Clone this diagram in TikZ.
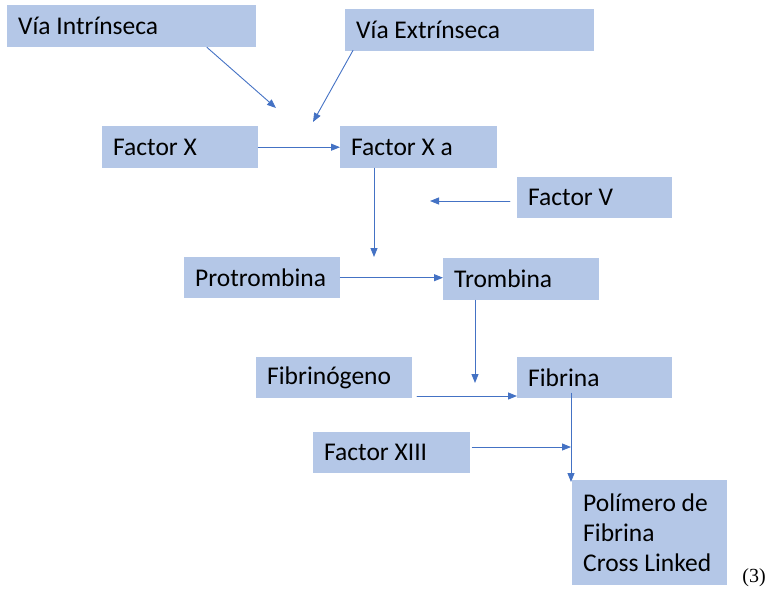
\documentclass[tikz,border=0pt]{standalone}
\usepackage{fontspec}
\setmainfont{Carlito}
\newfontfamily\refnum{Liberation Serif}
\usetikzlibrary{arrows.meta, calc}
\definecolor{boxfill}{HTML}{B4C7E7}
\definecolor{arblue}{HTML}{4472C4}
\tikzset{bx/.style={fill=boxfill, anchor=north west, align=left, inner xsep=11pt, inner ysep=0pt,
    font=\fontsize{25.5}{30}\selectfont, execute at begin node={\spaceskip=0pt\xspaceskip=0pt\relax}},
  ar/.style={draw=arblue, line width=0.9pt, line cap=round, -{Triangle[length=9pt, width=7pt]}}}

\begin{document}
\begin{tikzpicture}[x=1pt, y=-1pt]
  \useasboundingbox (0,0) rectangle (766,590);
  % boxes
  \node[bx, minimum width=249pt, minimum height=42pt, text width=227pt] (vi) at (7,5) {Vía Intrínseca};
  \node[bx, minimum width=249pt, minimum height=42pt, text width=227pt] (ve) at (345,9) {Vía Extrínseca};
  \node[bx, minimum width=156pt, minimum height=42pt, text width=134pt] (fx) at (102,126) {Factor X};
  \node[bx, minimum width=157pt, minimum height=42pt, text width=135pt] (fxa) at (340,126) {Factor X a};
  \node[bx, minimum width=155pt, minimum height=41pt, text width=133pt] (fv) at (517,177) {Factor V};
  \node[bx, minimum width=156pt, minimum height=41pt, text width=134pt] (pt) at (184,257) {Protrombina};
  \node[bx, minimum width=156pt, minimum height=42pt, text width=134pt] (tr) at (443,258) {Trombina};
  \node[bx, minimum width=156pt, minimum height=41pt, text width=134pt] (fg) at (256,357) {Fibrinógeno};
  \node[bx, minimum width=155pt, minimum height=41pt, text width=133pt] (fb) at (517,357) {Fibrina};
  \node[bx, minimum width=157pt, minimum height=41pt, text width=135pt] (f13) at (313,432) {Factor XIII};
  \node[bx, minimum width=155pt, minimum height=105pt, text width=133pt] (pl) at (572,480) {Polímero de\\Fibrina\\Cross Linked};
  \node[anchor=east, inner sep=0pt, font=\refnum\fontsize{20}{24}\selectfont] (ref) at (766,578) {(3)};
  % free ends
  \coordinate (t1) at (276,108);
  \coordinate (t2) at (313,122);
  \coordinate (t3) at (374,257);
  \coordinate (t4) at (430,201);
  \coordinate (t5) at (475,383);
  \coordinate (t6) at (417,396);
  \coordinate (j) at (571,447);
  % arrows
  \draw[ar] ($(vi.south west)+(200,0)$) -- (t1);
  \draw[ar] ($(ve.south west)+(8,-1)$) -- (t2);
  \draw[ar] (fx.east) -- (fxa.west);
  \draw[ar] (t3 |- fxa.south) -- (t3);
  \draw[ar] ($(fv.west |- t4)+(-7,0)$) -- (t4);
  \draw[ar] (pt.east) -- (pt.east -| tr.west);
  \draw[ar] (t5 |- tr.south) -- (t5);
  \draw[ar] (t6) -- (t6 -| fb.west);
  \draw[ar] ($(j |- fb.south)+(0,-5)$) -- ($(j |- pl.north)+(0,2)$);
  \draw[ar] ($(f13.east |- j)+(2,0)$) -- (j);
\end{tikzpicture}
\end{document}
